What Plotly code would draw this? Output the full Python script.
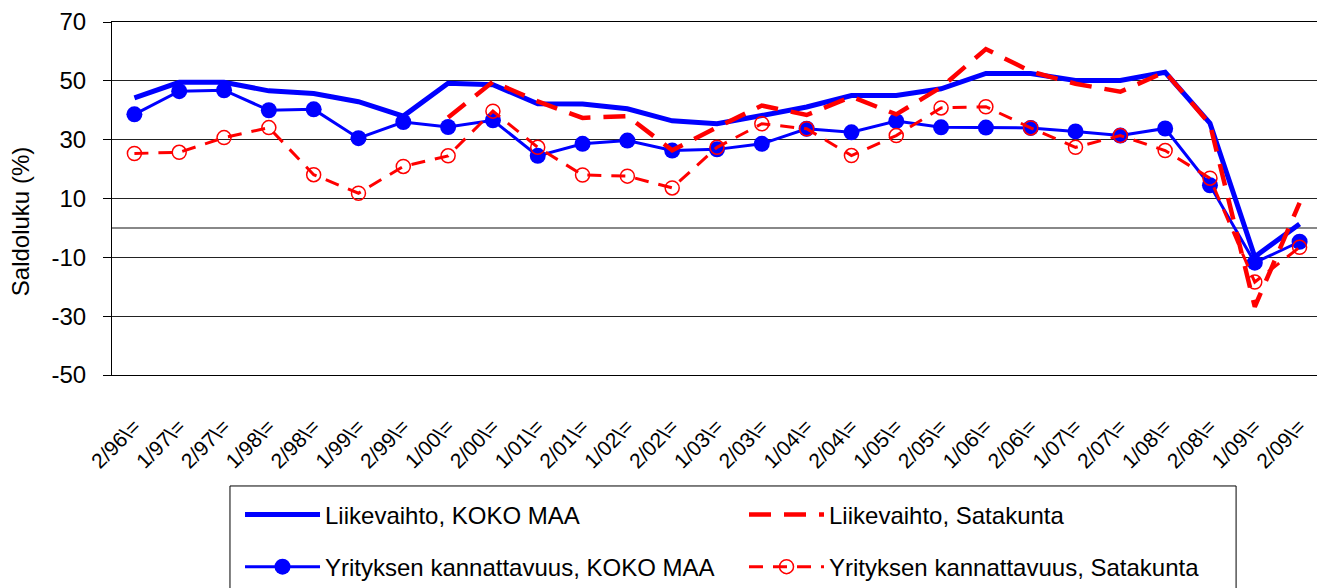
import plotly.graph_objects as go

# Category labels (half-year periods)
periods = ["2/96", "1/97", "2/97", "1/98", "2/98", "1/99", "2/99", "1/00", "2/00",
           "1/01", "2/01", "1/02", "2/02", "1/03", "2/03", "1/04", "2/04", "1/05",
           "2/05", "1/06", "2/06", "1/07", "2/07", "1/08", "2/08", "1/09", "2/09"]
tick_labels = [p + "\\=" for p in periods]

# y axis ticks
y_ticks = [-50, -30, -10, 10, 30, 50, 70]
y_tick_labels = ["-50", "-30", "-10", "10", "30", "50", "70"]

# Series values (saldoluku, %)
liikevaihto_koko = [44.2, 49.5, 49.5, 46.6, 45.7, 42.9, 38.0, 49.2, 48.7, 42.2, 42.1, 40.5, 36.4, 35.4,
                    38.2, 41.1, 45.0, 45.0, 47.3, 52.5, 52.5, 50.1, 50.1, 52.9, 35.6, -9.8, 1.3]
kannattavuus_koko = [38.6, 46.5, 46.8, 40.0, 40.3, 30.5, 36.0, 34.3, 36.6, 24.5, 28.6, 29.7, 26.3, 26.7,
                     28.6, 33.7, 32.5, 36.3, 34.2, 34.1, 34.0, 32.8, 31.4, 33.8, 14.5, -11.8, -4.7]
liikevaihto_sata = [None, None, None, None, None, None, None, 37.5, 49.7, 43.0, 37.4, 38.0, 26.4, 34.2,
                    41.6, 38.4, 44.6, 38.6, 47.8, 60.8, 53.2, 49.0, 46.3, 53.0, 35.3, -26.8, 8.5]
kannattavuus_sata = [25.3, 25.7, 30.7, 34.1, 18.1, 11.8, 20.9, 24.5, 39.7, 27.4, 18.0, 17.6, 13.6, 27.4,
                     35.4, 33.7, 24.6, 31.4, 40.8, 41.2, 34.0, 27.4, 31.4, 26.3, 16.9, -18.4, -6.6]

font_name = "Liberation Sans, Arial, sans-serif"

fig = go.Figure()

# Draw order: blue first, red on top; legend order set with legendrank
fig.add_trace(go.Scatter(x=periods, y=liikevaihto_koko, mode="lines", name="Liikevaihto, KOKO MAA",
                         line=dict(color="#0000FF", width=5), legend="legend", legendrank=1))
fig.add_trace(go.Scatter(x=periods, y=kannattavuus_koko, mode="lines+markers",
                         name="Yrityksen kannattavuus, KOKO MAA",
                         line=dict(color="#0000FF", width=3),
                         marker=dict(symbol="circle", size=16, color="#0000FF"),
                         legend="legend2", legendrank=1))
fig.add_trace(go.Scatter(x=periods, y=liikevaihto_sata, mode="lines", name="Liikevaihto, Satakunta",
                         line=dict(color="#FF0000", width=4.5, dash="22px,13px"),
                         legend="legend", legendrank=2))
fig.add_trace(go.Scatter(x=periods, y=kannattavuus_sata, mode="lines+markers",
                         name="Yrityksen kannattavuus, Satakunta",
                         line=dict(color="#FF0000", width=3, dash="14px,10px"),
                         marker=dict(symbol="circle-open", size=14, color="#FF0000", line=dict(width=1.5)),
                         legend="legend2", legendrank=2))

legend_style = dict(orientation="h", xanchor="left", yanchor="middle", bgcolor="rgba(0,0,0,0)",
                    font=dict(family=font_name, size=24, color="black"), entrywidth=414,
                    itemwidth=75, borderwidth=0)

# the page puts the figure 8px in from the top-left corner
fig.update_layout(
    width=1317, height=580,
    margin=dict(l=104, r=3, t=14, b=213, autoexpand=False),
    paper_bgcolor="white", plot_bgcolor="white",
    font=dict(family=font_name, color="black"),
    showlegend=True,
    legend=dict(x=0.1058, y=-0.3966, **legend_style),
    legend2=dict(x=0.1058, y=-0.544, **legend_style),
    shapes=[dict(type="rect", xref="paper", yref="paper", x0=0.0975, x1=0.929, y0=-0.70, y1=-0.3144,
                 line=dict(color="black", width=1), fillcolor="white", layer="below")],
    annotations=[dict(text="Saldoluku (%)", textangle=-90, xref="paper", yref="paper",
                      x=-0.076, y=0.433, xanchor="center", yanchor="middle", showarrow=False,
                      font=dict(size=24))],
)

fig.update_xaxes(type="category", tickvals=periods, ticktext=tick_labels, tickangle=-45,
                 range=[-0.5, len(periods) - 0.5], ticklabelstandoff=30,
                 tickfont=dict(size=21), showgrid=False, showline=True, linecolor="black",
                 linewidth=1, mirror=True, ticks="", zeroline=False)
fig.update_yaxes(range=[-50, 70], tickvals=y_ticks, ticktext=y_tick_labels, tickfont=dict(size=24),
                 showgrid=True, gridcolor="#222222", gridwidth=1,
                 zeroline=True, zerolinecolor="#888888", zerolinewidth=2,
                 showline=True, linecolor="black", linewidth=1, mirror=True,
                 ticks="outside", ticklen=8, tickcolor="black", ticklabelstandoff=12)

fig.write_html("out.html")
